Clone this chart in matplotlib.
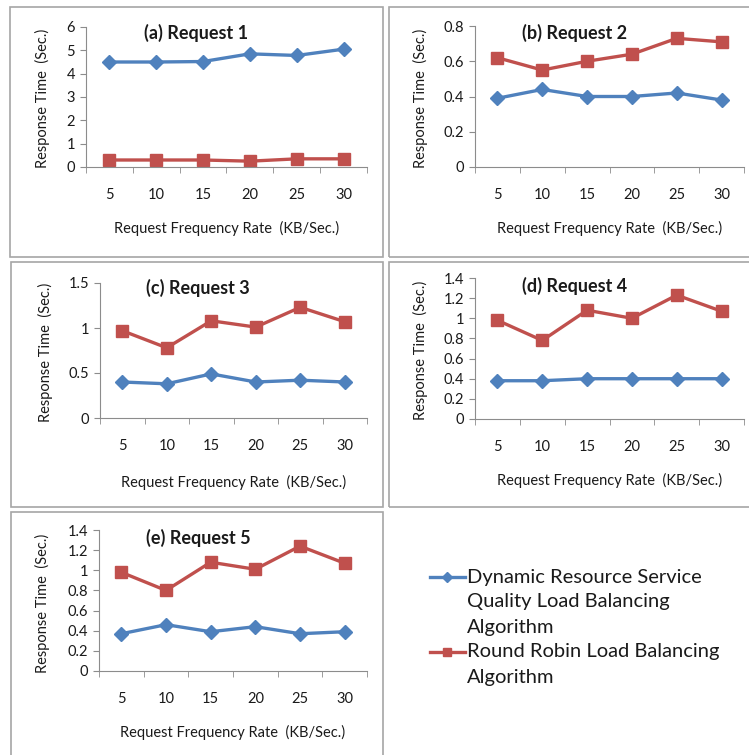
"""Response time comparison of two load balancing algorithms (five request panels)."""

import matplotlib

matplotlib.use("Agg")

import matplotlib.pyplot as plt
from matplotlib.lines import Line2D
from matplotlib.patches import Rectangle

plt.rcParams["font.family"] = ["Lato", "DejaVu Sans"]

W, H = 749, 755

rates = ["5", "10", "15", "20", "25", "30"]
series_names = [
    "Dynamic Resource Service\nQuality Load Balancing\nAlgorithm",
    "Round Robin Load Balancing\nAlgorithm",
]
titles = ["(a) Request 1", "(b) Request 2", "(c) Request 3", "(d) Request 4", "(e) Request 5"]

drsq_1 = [4.50, 4.50, 4.52, 4.85, 4.78, 5.05]
rr_1 = [0.30, 0.30, 0.30, 0.25, 0.35, 0.35]
drsq_2 = [0.39, 0.44, 0.40, 0.40, 0.42, 0.38]
rr_2 = [0.62, 0.55, 0.60, 0.64, 0.73, 0.71]
drsq_3 = [0.40, 0.38, 0.49, 0.40, 0.42, 0.40]
rr_3 = [0.97, 0.78, 1.08, 1.01, 1.23, 1.07]
drsq_4 = [0.38, 0.38, 0.40, 0.40, 0.40, 0.40]
rr_4 = [0.98, 0.78, 1.08, 1.00, 1.23, 1.07]
drsq_5 = [0.37, 0.46, 0.39, 0.44, 0.37, 0.39]
rr_5 = [0.98, 0.80, 1.08, 1.01, 1.24, 1.07]

y_ticks = [
    [0, 1, 2, 3, 4, 5, 6],
    [0, 0.2, 0.4, 0.6, 0.8],
    [0, 0.5, 1, 1.5],
    [0, 0.2, 0.4, 0.6, 0.8, 1, 1.2, 1.4],
    [0, 0.2, 0.4, 0.6, 0.8, 1, 1.2, 1.4],
]

BLUE = "#4F81BD"
RED = "#C0504D"
TEXT = "#1a1a1a"
AXIS = "#8c8c8c"

# pixel layout: (x0, y_top, x1, y_bottom) of plot area, box, title centre, ylabel pos, xlabel y
layout = [
    dict(ax=(86, 27, 367, 167), box=(10, 7, 383, 257), title=(196, 33), ylab=(50, 98), xlab=221),
    dict(ax=(475, 26, 744, 167), box=(389, 7, 752, 257), title=(575, 33), ylab=(428, 98), xlab=221),
    dict(ax=(100, 283, 367, 418), box=(11, 262, 383, 507), title=(198, 288), ylab=(53, 352), xlab=475),
    dict(ax=(475, 278, 744, 419), box=(389, 262, 752, 507), title=(575, 286), ylab=(428, 350), xlab=473),
    dict(ax=(99, 530, 367, 671), box=(11, 512, 383, 760), title=(198, 538), ylab=(50, 603), xlab=725),
]


def fx(px):
    return px / W


def fy(py):
    return 1 - py / H


def fmt(v):
    return f"{v:g}"


def main() -> None:
    fig = plt.figure(figsize=(W / 100, H / 100), dpi=100)

    data = [(drsq_1, rr_1), (drsq_2, rr_2), (drsq_3, rr_3), (drsq_4, rr_4), (drsq_5, rr_5)]
    x = list(range(len(rates)))

    for i, ((blue, red), spec) in enumerate(zip(data, layout)):
        bx0, by0, bx1, by1 = spec["box"]
        fig.patches.append(
            Rectangle((fx(bx0), fy(by1)), fx(bx1 - bx0), (by1 - by0) / H,
                      transform=fig.transFigure, fill=False, edgecolor="#a6a6a6", lw=1.2)
        )

        x0, yt, x1, yb = spec["ax"]
        ax = fig.add_axes([fx(x0), fy(yb), fx(x1 - x0), (yb - yt) / H])
        ax.plot(x, blue, color=BLUE, lw=2.4, marker="D", ms=7, solid_joinstyle="round")
        ax.plot(x, red, color=RED, lw=2.4, marker="s", ms=8, solid_joinstyle="round")

        ticks = y_ticks[i]
        ax.set_ylim(0, ticks[-1])
        ax.set_yticks(ticks)
        ax.set_yticklabels([fmt(t) for t in ticks])
        ax.set_xlim(-0.5, len(rates) - 0.5)
        ax.set_xticks(x)
        ax.set_xticklabels(rates)
        ax.set_xticks([k - 0.5 for k in range(len(rates) + 1)], minor=True)
        ax.tick_params(axis="x", which="major", length=0, pad=15, labelsize=10.5, labelcolor=TEXT)
        ax.tick_params(axis="x", which="minor", length=4, color=AXIS, direction="out")
        ax.tick_params(axis="y", length=4, color=AXIS, pad=4, labelsize=10.5, labelcolor=TEXT)

        for side in ("top", "right"):
            ax.spines[side].set_visible(False)
        for side in ("left", "bottom"):
            ax.spines[side].set_color(AXIS)
        ax.set_facecolor("none")

        ax.set_ylabel("Response Time  (Sec.)", fontsize=10.5, color=TEXT)
        ax.yaxis.set_label_coords(fx(spec["ylab"][0]), fy(spec["ylab"][1]), transform=fig.transFigure)
        ax.set_xlabel("Request Frequency Rate  (KB/Sec.)", fontsize=10.5, color=TEXT)
        ax.xaxis.set_label_coords(fx((x0 + x1) / 2), fy(spec["xlab"]), transform=fig.transFigure)

        tx, ty = spec["title"]
        fig.text(fx(tx), fy(ty), titles[i], ha="center", va="center", fontsize=13,
                 fontweight="bold", color=TEXT)

    # legend drawn by hand so each handle sits on the first line of its label
    entries = [(series_names[0], BLUE, "D", 5, 577), (series_names[1], RED, "s", 6, 652)]
    for name, color, marker, ms, y0 in entries:
        fig.add_artist(Line2D([fx(430), fx(465)], [fy(y0), fy(y0)], color=color, lw=2.4,
                              transform=fig.transFigure))
        fig.add_artist(Line2D([fx(447.5)], [fy(y0)], color=color, marker=marker, ms=ms,
                              transform=fig.transFigure))
        for k, line in enumerate(name.split("\n")):
            fig.text(fx(467), fy(y0 + 25 * k), line, ha="left", va="center",
                     fontsize=14.5, color=TEXT)

    fig.savefig("out.png", dpi=100)
    plt.close(fig)


if __name__ == "__main__":
    main()
